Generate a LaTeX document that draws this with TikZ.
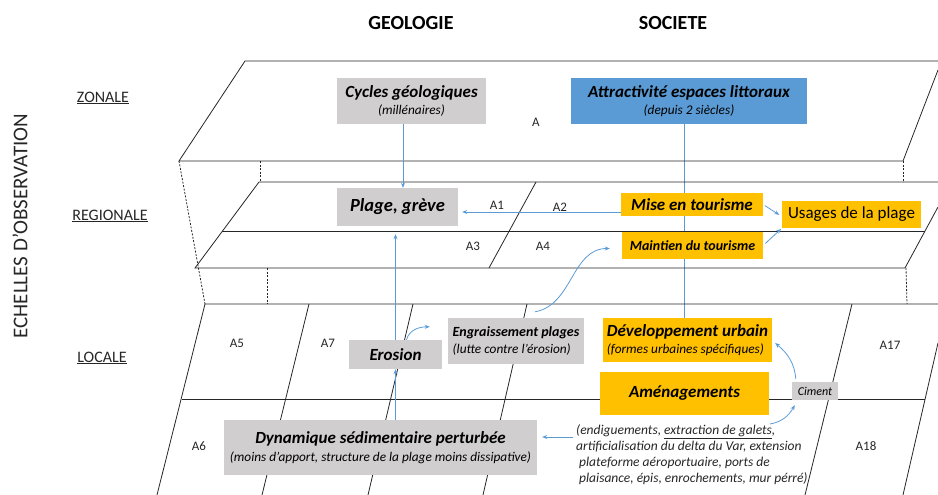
\documentclass[tikz,border=0pt]{standalone}
\usepackage{fontspec}
\setmainfont{Carlito}
\usetikzlibrary{arrows.meta,backgrounds}

\definecolor{boxgray}{RGB}{208,206,206}
\definecolor{boxblue}{RGB}{91,155,213}
\definecolor{boxgold}{RGB}{255,192,0}
\definecolor{linkblue}{RGB}{91,155,213}

\tikzset{
  plane/.style={draw=black!85, line width=0.8pt},
  hidden/.style={plane, dash pattern=on 2pt off 1.5pt},
  head/.style={font=\fontsize{20}{24}\selectfont\bfseries},
  level/.style={font=\fontsize{16}{19}\selectfont, text=black!85},
  area/.style={font=\fontsize{13}{15}\selectfont, text=black!85},
  geobox/.style={fill=boxgray, inner sep=2pt, align=center},
  socbox/.style={fill=boxgold, inner sep=2pt, align=center},
  attrbox/.style={fill=boxblue, inner sep=2pt, align=center},
  link/.style={draw=linkblue, line width=0.8pt, ->},
}
\newcommand\boxtitle[1]{{\fontsize{17}{19}\selectfont\bfseries\itshape #1}}
\newcommand\boxsub[1]{{\fontsize{13.3}{15}\selectfont\itshape #1}}

\begin{document}
\begin{tikzpicture}[x=1pt,y=-1pt,>={Stealth[length=5pt,width=4pt]}]
\useasboundingbox (0,0) rectangle (938,495);

% headings and scales
\node[head] (geo) at (411,23) {GEOLOGIE};
\node[head] (soc) at (673,23) {SOCIETE};
\node[rotate=90, font=\fontsize{21}{24}\selectfont, text=black!85] (ech) at (20,226) {ECHELLES D’OBSERVATION};
\node[level] (zon) at (103,98) {\underline{ZONALE}};
\node[level] (reg) at (110,216) {\underline{REGIONALE}};
\node[level] (loc) at (102,358) {\underline{LOCALE}};

% zonal plane
\draw[plane] (938,61) -- (245,61) -- (179,161) -- (903,161) -- (938,70);
% regional plane
\draw[plane] (938,182) -- (259,182) -- (195,268) -- (905,268) -- (938,207);
\draw[plane] (222,231) -- (925,231);
\draw[plane] (536,182) -- (489,268);
% local plane
\draw[plane] (938,304) -- (205,304) -- (157,495);
\draw[plane] (182,399) -- (925,399);
\draw[plane] (938,343) -- (903,495);
\foreach \xa/\xb in {309/262, 413/368, 527/483, 852/805}
  \draw[plane] (\xa,304) -- (\xb,495);
% hidden edges
\draw[hidden] (179,161) -- (205,304);
\draw[hidden] (260,161) -- (260,182);
\draw[hidden] (267,268) -- (267,304);
\draw[hidden] (903,161) -- (903,182);
\draw[hidden] (906,268) -- (907,304);

% area labels
\node[area] (a0) at (536,122) {A};
\node[area] (a1) at (497,205) {A1};
\node[area] (a2) at (560,207) {A2};
\node[area] (a3) at (473,246) {A3};
\node[area] (a4) at (543,246) {A4};
\node[area] (a5) at (237,343) {A5};
\node[area] (a7) at (328,343) {A7};
\node[area] (a6) at (199,446) {A6};
\node[area] (a17) at (890,345) {A17};
\node[area] (a18) at (866,446) {A18};

% boxes
\node[geobox, minimum width=149, minimum height=46] (cyc) at (411.5,101)
  {\boxtitle{Cycles géologiques}\\[3pt]\boxsub{(millénaires)}};
\node[attrbox, minimum width=236, minimum height=46] (attr) at (689,101)
  {\boxtitle{Attractivité espaces littoraux}\\[3pt]\boxsub{(depuis 2 siècles)}};
\node[geobox, minimum width=121, minimum height=38, font=\fontsize{18.5}{21}\selectfont\bfseries\itshape] (plage) at (397.5,207)
  {Plage, grève};
\node[socbox, minimum width=142, minimum height=23] (mise) at (692,204.5)
  {\boxtitle{Mise en tourisme}};
\node[socbox, minimum width=139, minimum height=27, font=\fontsize{17}{20}\selectfont] (usa) at (851.5,214.5)
  {Usages de la plage};
\node[socbox, minimum width=141, minimum height=27, font=\fontsize{14}{16}\selectfont\bfseries\itshape] (maint) at (692.5,245.5)
  {Maintien du tourisme};
\node[geobox, minimum width=136, minimum height=46, align=left] (eng) at (516,341)
  {{\fontsize{14}{16}\selectfont\bfseries\itshape Engraissement plages}\\[3pt]\boxsub{(lutte contre l’érosion)}};
\node[geobox, minimum width=93, minimum height=29] (ero) at (395.5,354.5)
  {\boxtitle{Erosion}};
\node[socbox, minimum width=169, minimum height=44, align=left] (dev) at (687.5,340)
  {\boxtitle{Développement urbain}\\[3pt]\boxsub{(formes urbaines spécifiques)}};
\node[socbox, minimum width=169, minimum height=43] (amen) at (684.5,393.5)
  {\boxtitle{Aménagements}};
\node[geobox, minimum width=46, minimum height=18, inner sep=1pt, font=\fontsize{12}{14}\selectfont\itshape] (cim) at (815,391)
  {Ciment};
\node[geobox, minimum width=313, minimum height=55] (dyn) at (380.5,447.5)
  {\boxtitle{Dynamique sédimentaire perturbée}\\[4pt]\boxsub{(moins d’apport, structure de la plage moins dissipative)}};
\node[anchor=north west, inner sep=0pt, align=left, font=\fontsize{13.5}{16}\selectfont\itshape, text=black!85] (note) at (576,424)
  {(endiguements, \underline{extraction de galets},\\
   artificialisation du delta du Var, extension\\
   \hspace*{3pt}plateforme aéroportuaire, ports de\\
   \hspace*{3pt}plaisance, épis, enrochements, mur pérré)};
\coordinate (noteout) at (770,424);

% links
\begin{scope}[on background layer]
  \draw[linkblue, line width=0.9pt] (attr.south -| 684,0) -- (dev.north -| 684,0);
\end{scope}
\draw[link] (cyc.south -| 403,0) -- (plage.north -| 403,0);
\draw[link, shorten >=4pt] (mise.west |- 0,212) -- (plage.east |- 0,212);
\draw[link, shorten <=2pt, shorten >=3pt] (mise.east) -- ([shift={(0,2)}]usa.west);
\draw[link, shorten <=3pt, shorten >=1pt] (maint.east) -- (usa.south west);
\draw[link] (dyn.north -| ero.south) -- (ero.south);
\draw[link, shorten >=8pt] (ero.north) -- (ero.north |- plage.south);
\draw[link] ([shift={(11,0)}]ero.north) to[out=75,in=180] ([shift={(-18,9)}]eng.north west);
\draw[link] ([shift={(19,-6)}]eng.north) to[out=10,in=180] ([shift={(-12,3)}]maint.west);
\draw[link, shorten <=3pt, shorten >=5pt] (note.west |- 0,437) -- (dyn.east |- 0,437);
\draw[link] (noteout) to[out=10,in=-120] ([shift={(3,5)}]cim.south west);
\draw[link] ([shift={(4,-3)}]cim.north west) to[out=95,in=-40] ([shift={(3,3)}]dev.east);
\end{tikzpicture}
\end{document}
